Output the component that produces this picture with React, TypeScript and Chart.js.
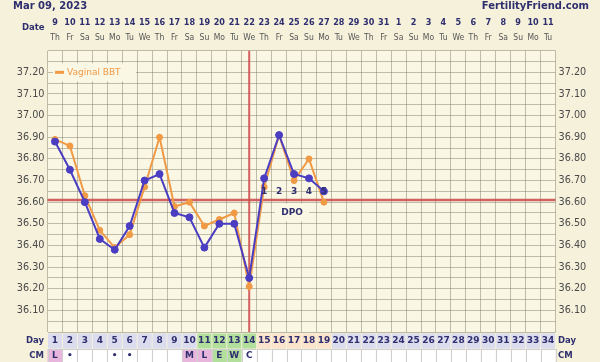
import React, { useEffect, useRef } from 'react';
import { Chart, registerables } from 'chart.js';

Chart.register(...registerables);

// ---------- data ----------
const chartDate = 'Mar 09, 2023';
const siteName = 'FertilityFriend.com';

const cycleDays = ['1','2','3','4','5','6','7','8','9','10','11','12','13','14','15','16','17','18','19','20','21','22','23','24','25','26','27','28','29','30','31','32','33','34'];
const dateLabels = ['9','10','11','12','13','14','15','16','17','18','19','20','21','22','23','24','25','26','27','28','29','30','31','1','2','3','4','5','6','7','8','9','10','11'];
const weekdayLabels = ['Th','Fr','Sa','Su','Mo','Tu','We','Th','Fr','Sa','Su','Mo','Tu','We','Th','Fr','Sa','Su','Mo','Tu','We','Th','Fr','Sa','Su','Mo','Tu','We','Th','Fr','Sa','Su','Mo','Tu'];
const cmLabels = ['L','•','','','•','•','','','','M','L','E','W','C','','','','','','','','','','','','','','','','','','','',''];

const bbtLabel = 'BBT';
const bbtValues = [36.88, 36.75, 36.60, 36.43, 36.38, 36.49, 36.70, 36.73, 36.55, 36.53, 36.39, 36.50, 36.50, 36.25, 36.71, 36.91, 36.73, 36.71, 36.65];
const vaginalLabel = 'Vaginal BBT';
const vaginalValues = [36.89, 36.86, 36.63, 36.47, 36.39, 36.45, 36.67, 36.90, 36.58, 36.60, 36.49, 36.52, 36.55, 36.21, 36.67, 36.91, 36.70, 36.80, 36.60];

const coverline = 36.61;
const ovulationDay = 14;
const fertileDays = [11, 12, 13, 14];
const lutealDays = [15, 16, 17, 18, 19];
const dpoLabels = ['1', '2', '3', '4', '5'];
const dpoTitle = 'DPO';
const rowTitles = { date: 'Date', day: 'Day', cm: 'CM' };

const yMin = 36.0;
const yMax = 37.3;
const yStep = 0.05;
const yLabelMin = 36.1;
const yLabelMax = 37.2;

// ---------- styles ----------
const OUTER_BG = '#f5f1db';
const PLOT_BG = '#faf7e5';
const GRID = 'rgba(120,118,95,0.45)';
const NAVY = '#2f2f6f';
const TICK_GRAY = '#4a4a4a';
const BLUE = '#4a3dc2';
const ORANGE = '#f09a45';
const RED = 'rgba(205,80,80,0.9)';
const DAY_BG = '#dcdcef';
const FERTILE_BG = '#b3df9c';
const LUTEAL_BG = '#fbe3cc';
const CM_PINK = '#e8b6dc';
const CM_GREEN = '#b3df9c';

const FONT = '"DejaVu Sans", Verdana, sans-serif';
const COND = '"DejaVu Sans Condensed", "DejaVu Sans", sans-serif';

function buildYTicks(scale: any) {
  const n = Math.round((yMax - yMin) / yStep);
  const t: any[] = [];
  for (let i = 0; i <= n; i++) t.push({ value: +(yMin + i * yStep).toFixed(2) });
  scale.ticks = t;
}
function yTickLabel(v: any) {
  const n = Number(v);
  const r = Math.round(n * 100);
  if (r % 10 !== 0) return '';
  if (n < yLabelMin - 1e-6 || n > yLabelMax + 1e-6) return '';
  return n.toFixed(2);
}

const bgPlugin = {
  id: 'ffBackground',
  beforeDraw(chart: any) {
    const { ctx, chartArea: a, scales } = chart;
    ctx.save();
    ctx.fillStyle = OUTER_BG;
    ctx.fillRect(0, 0, chart.width, chart.height);
    ctx.fillStyle = PLOT_BG;
    ctx.fillRect(a.left, a.top, a.right - a.left, a.bottom - a.top);
    const x = scales.x;
    const w = (a.right - a.left) / cycleDays.length;
    cycleDays.forEach((d, i) => {
      const cx = x.getPixelForValue(i);
      const n = Number(d);
      let fill = DAY_BG;
      if (fertileDays.includes(n)) fill = FERTILE_BG;
      else if (lutealDays.includes(n)) fill = LUTEAL_BG;
      ctx.fillStyle = fill;
      ctx.fillRect(cx - w / 2 + 0.5, x.top + 1.5, w - 1, x.bottom - x.top - 2);
    });
    const cm = scales.xCM;
    cmLabels.forEach((c, i) => {
      const cx = cm.getPixelForValue(i);
      let fill = '#ffffff';
      if (c === 'L' || c === 'M') fill = CM_PINK;
      else if (c === 'E' || c === 'W') fill = CM_GREEN;
      ctx.fillStyle = fill;
      ctx.fillRect(cx - w / 2, cm.top, w, cm.bottom - cm.top + 2);
      ctx.strokeStyle = '#cfcfcf';
      ctx.lineWidth = 1;
      ctx.strokeRect(Math.round(cx - w / 2) + 0.5, cm.top + 0.5, w, cm.bottom - cm.top + 4);
    });
    ctx.restore();
  },
  beforeDatasetsDraw(chart: any) {
    const { ctx, chartArea: a, scales: { x, y } } = chart;
    ctx.save();
    const cy = y.getPixelForValue(coverline);
    ctx.strokeStyle = RED;
    ctx.lineWidth = 2.5;
    ctx.beginPath();
    ctx.moveTo(a.left, cy);
    ctx.lineTo(a.right, cy);
    ctx.stroke();
    const ox = x.getPixelForValue(ovulationDay - 1);
    ctx.lineWidth = 2;
    ctx.beginPath();
    ctx.moveTo(ox, a.top);
    ctx.lineTo(ox, a.bottom);
    ctx.stroke();

    // DPO title with its own background
    const fi = lutealDays[0] - 1;
    const li = lutealDays[lutealDays.length - 1] - 1;
    const dx = (x.getPixelForValue(fi) + x.getPixelForValue(li)) / 2 - 2;
    const dy = cy + 12.5;
    ctx.fillStyle = PLOT_BG;
    ctx.fillRect(dx - 17, dy - 9, 34, 18);
    ctx.font = `bold 9px ${FONT}`;
    ctx.fillStyle = NAVY;
    ctx.textAlign = 'center';
    ctx.textBaseline = 'middle';
    ctx.fillText(dpoTitle, dx, dy);

    // legend
    const ds = chart.data.datasets[1];
    const lx = a.left + 5.5;
    const ly = y.getPixelForValue(yLabelMax);
    ctx.fillStyle = PLOT_BG;
    ctx.fillRect(lx, ly - 9, 83, 18);
    ctx.strokeStyle = ds.borderColor;
    ctx.lineWidth = 3;
    ctx.beginPath();
    ctx.moveTo(lx + 2, ly);
    ctx.lineTo(lx + 11, ly);
    ctx.stroke();
    ctx.font = `9px ${FONT}`;
    ctx.fillStyle = ds.borderColor;
    ctx.textAlign = 'left';
    ctx.textBaseline = 'middle';
    ctx.fillText(ds.label, lx + 14, ly);
    ctx.restore();
  },
  afterDatasetsDraw(chart: any) {
    const { ctx, scales: { x, y } } = chart;
    ctx.save();
    const cy = y.getPixelForValue(coverline);
    ctx.font = `bold 9px ${FONT}`;
    ctx.fillStyle = NAVY;
    ctx.textAlign = 'center';
    ctx.textBaseline = 'middle';
    lutealDays.forEach((d, i) => {
      ctx.fillText(dpoLabels[i], x.getPixelForValue(d - 1), cy - 8.5);
    });
    ctx.restore();
  },
  afterDraw(chart: any) {
    const { ctx, chartArea: a, scales } = chart;
    ctx.save();
    ctx.fillStyle = NAVY;
    ctx.textBaseline = 'alphabetic';
    ctx.font = `bold 10px ${FONT}`;
    ctx.textAlign = 'left';
    ctx.fillText(chartDate, 13, 9);
    ctx.textAlign = 'right';
    ctx.fillText(siteName, 589, 9);

    ctx.font = `bold 8.5px ${FONT}`;
    ctx.textAlign = 'left';
    ctx.fillText(rowTitles.date, 22, 29.5);

    ctx.textBaseline = 'middle';
    const xd = scales.x;
    const xc = scales.xCM;
    const dayMid = (xd.top + xd.bottom) / 2 + 0.5;
    const cmMid = xc.top + 7;
    ctx.textAlign = 'right';
    ctx.fillText(rowTitles.day, a.left - 3.5, dayMid);
    ctx.fillText(rowTitles.cm, a.left - 3.5, cmMid);
    ctx.textAlign = 'left';
    ctx.fillText(rowTitles.day, a.right + 2.5, dayMid);
    ctx.fillText(rowTitles.cm, a.right + 2.5, cmMid);
    ctx.restore();
  },
};

export default function App() {
  const ref = useRef<HTMLCanvasElement>(null);
  useEffect(() => {
    const canvas = ref.current;
    if (!canvas) return;
    const chart = new Chart(canvas, {
      type: 'line',
      data: {
        labels: cycleDays,
        datasets: [
          {
            label: bbtLabel,
            data: bbtValues,
            borderColor: BLUE,
            backgroundColor: BLUE,
            pointBackgroundColor: BLUE,
            pointBorderColor: BLUE,
            borderWidth: 2,
            pointRadius: 3.5,
            pointBorderWidth: 1,
            tension: 0,
            xAxisID: 'x',
            yAxisID: 'y',
          },
          {
            label: vaginalLabel,
            data: vaginalValues,
            borderColor: ORANGE,
            backgroundColor: ORANGE,
            pointBackgroundColor: ORANGE,
            pointBorderColor: ORANGE,
            borderWidth: 2,
            pointRadius: 3,
            pointBorderWidth: 1,
            tension: 0,
            xAxisID: 'x',
            yAxisID: 'y',
          },
        ],
      },
      options: {
        responsive: false,
        animation: false,
        devicePixelRatio: 1,
        layout: { padding: { top: 13, left: 0, right: 0, bottom: 0 } },
        plugins: { legend: { display: false }, tooltip: { enabled: false }, title: { display: false } },
        scales: {
          x: {
            type: 'category',
            position: 'bottom',
            weight: 1,
            offset: true,
            grid: { display: true, offset: true, drawTicks: false, color: GRID, lineWidth: 1 },
            border: { display: false },
            ticks: {
              autoSkip: false, maxRotation: 0, minRotation: 0, padding: 3.3,
              color: NAVY, font: { family: FONT, size: 9, weight: 'bold', lineHeight: 1.2 },
            },
            afterFit: (s: any) => { s.height = 17; },
          },
          xCM: {
            type: 'category',
            labels: cmLabels,
            position: 'bottom',
            weight: 2,
            offset: true,
            grid: { display: false, drawTicks: false },
            border: { display: false },
            ticks: {
              autoSkip: false, maxRotation: 0, minRotation: 0, padding: 1.3,
              color: NAVY, font: { family: FONT, size: 9, weight: 'bold', lineHeight: 1.2 },
            },
            afterFit: (s: any) => { s.height = 13; },
          },
          xDow: {
            type: 'category',
            labels: weekdayLabels,
            position: 'top',
            weight: 1,
            offset: true,
            grid: { display: false, drawTicks: false },
            border: { display: false },
            ticks: {
              autoSkip: false, maxRotation: 0, minRotation: 0, padding: 7.9,
              color: '#555555', font: { family: COND, size: 8.5, lineHeight: 1.2 },
            },
            afterFit: (s: any) => { s.height = 19.7; },
          },
          xDate: {
            type: 'category',
            labels: dateLabels,
            position: 'top',
            weight: 2,
            offset: true,
            grid: { display: false, drawTicks: false },
            border: { display: false },
            ticks: {
              autoSkip: false, maxRotation: 0, minRotation: 0, padding: 3.2,
              color: NAVY, font: { family: COND, size: 9, weight: 'bold', lineHeight: 1.2 },
            },
            afterFit: (s: any) => { s.height = 18; },
          },
          y: {
            type: 'linear',
            position: 'left',
            min: yMin,
            max: yMax,
            afterBuildTicks: buildYTicks,
            grid: { display: true, drawTicks: false, color: GRID, lineWidth: 1 },
            border: { display: false },
            ticks: {
              padding: 3, color: TICK_GRAY, autoSkip: false,
              font: { family: FONT, size: 9.7, lineHeight: 1.2 },
              callback: yTickLabel,
            },
            afterFit: (s: any) => { s.width = 47.5; },
          },
          y2: {
            type: 'linear',
            position: 'right',
            min: yMin,
            max: yMax,
            afterBuildTicks: buildYTicks,
            grid: { display: false, drawTicks: false },
            border: { display: false },
            ticks: {
              padding: 3, color: TICK_GRAY, autoSkip: false,
              font: { family: FONT, size: 9.7, lineHeight: 1.2 },
              callback: yTickLabel,
            },
            afterFit: (s: any) => { s.width = 44.5; },
          },
        },
      } as any,
      plugins: [bgPlugin],
    });
    return () => chart.destroy();
  }, []);
  return (
    <div style={{ position: 'fixed', left: 0, top: 0, width: 600, height: 362, background: OUTER_BG, overflow: 'hidden' }}>
      <canvas ref={ref} width={600} height={362} style={{ display: 'block', width: 600, height: 362 }} />
    </div>
  );
}
